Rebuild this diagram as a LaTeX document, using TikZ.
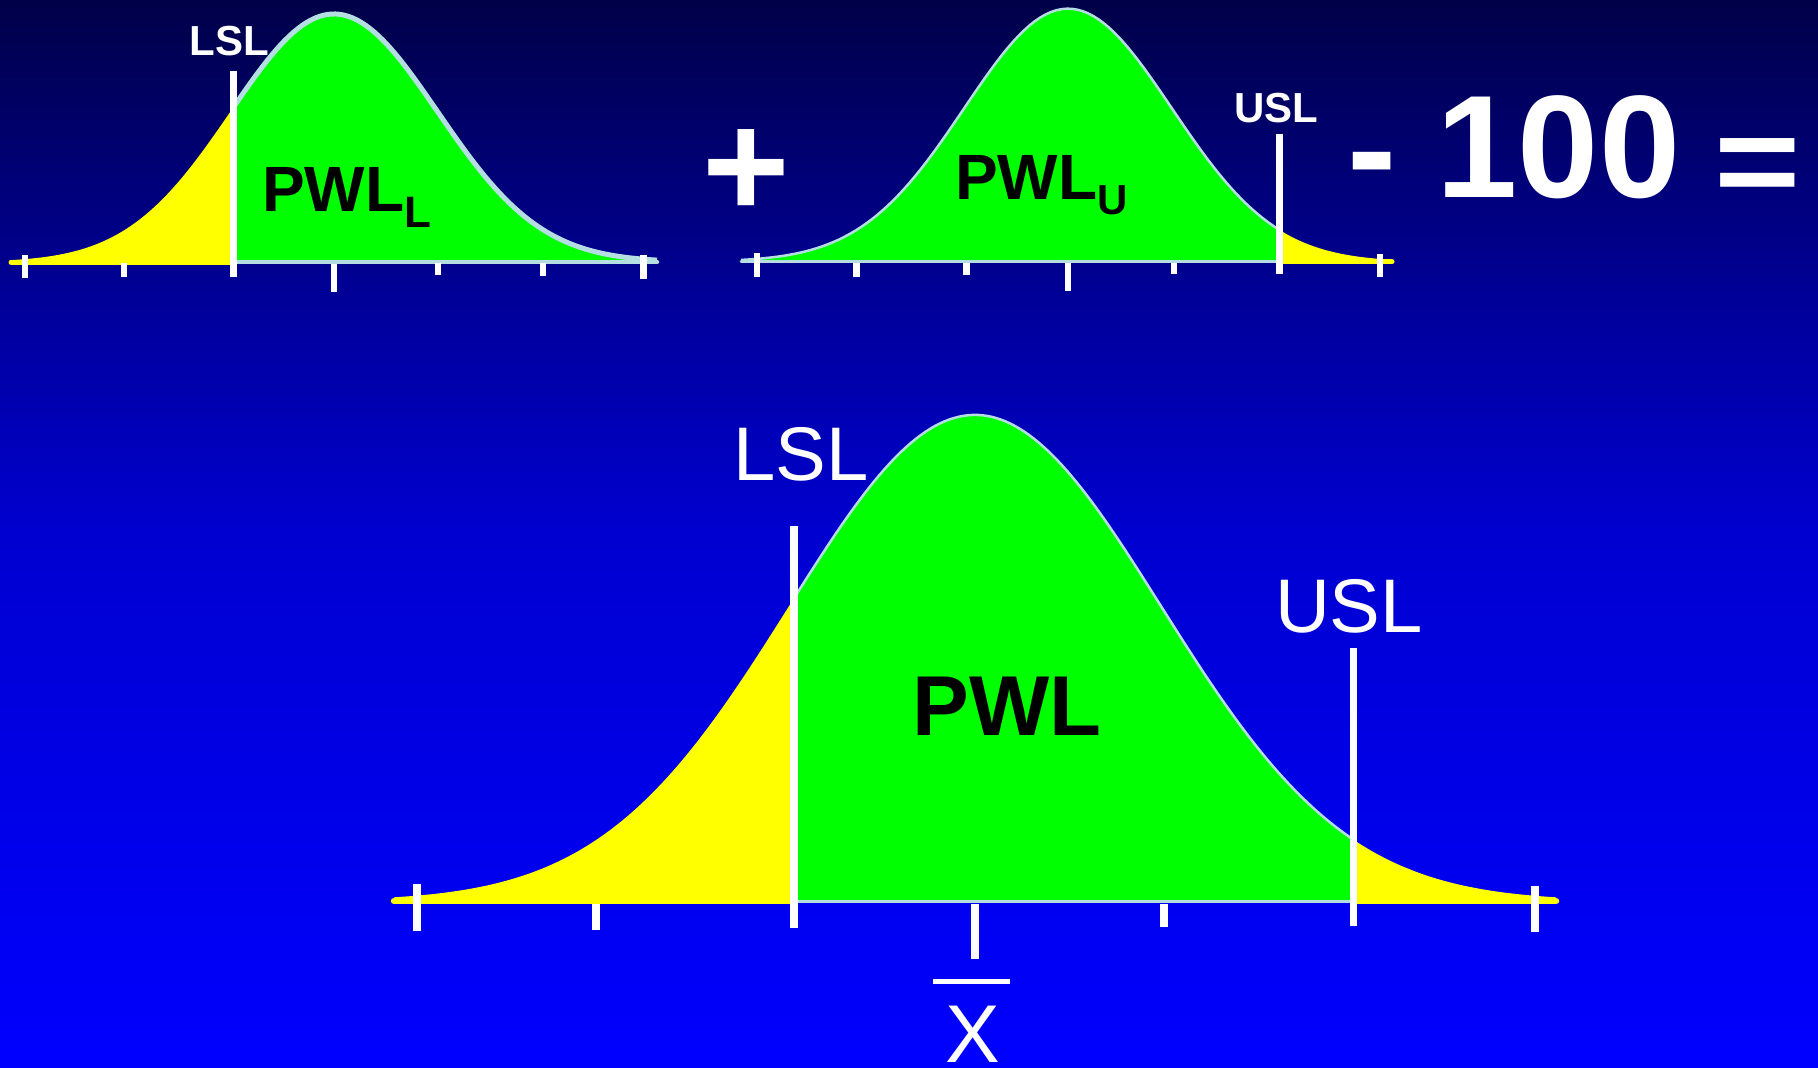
\documentclass[tikz,border=0pt]{standalone}
\usepackage{fontspec}
\setmainfont{Liberation Sans}
\definecolor{bgA}{RGB}{0,0,72}
\definecolor{bgB}{RGB}{0,0,155}
\definecolor{bgC}{RGB}{0,0,208}
\definecolor{bgD}{RGB}{0,0,255}
\definecolor{grn}{RGB}{0,255,0}
\definecolor{ylw}{RGB}{255,255,0}
\definecolor{rimc}{RGB}{180,222,226}
\begin{document}
\begin{tikzpicture}[x=1pt,y=-1pt,
  declare function={nrm(\t,\m,\s)=exp(-0.5*((\t-\m)/\s)^2);},
  tickln/.style={draw=white,line width=6.5pt},
  speclim/.style={draw=white,line width=7pt},
  rim/.style={draw=rimc,line width=#1,line join=round},
  ybase/.style={draw=ylw,line width=#1,line cap=round},
  lbl/.style={text=white,inner sep=0pt,anchor=base},
  blk/.style={text=black,inner sep=0pt,anchor=base west}]
\useasboundingbox (0,0) rectangle (1818,1068);
% background
\fill[top color=bgA,bottom color=bgB] (0,0) rectangle (1818,311);
\fill[top color=bgB,bottom color=bgC] (0,310) rectangle (1818,531);
\fill[top color=bgC,bottom color=bgD] (0,530) rectangle (1818,1068);

% ---------- curve 1 (PWL_L) ----------
\fill[ylw] (11,262) -- plot[domain=11:233,samples=60] (\x,{262-248*nrm(\x,334,103.5)}) -- (233,262) -- cycle;
\fill[grn] plot[domain=233:657,samples=100] (\x,{262-248*nrm(\x,334,103.5)}) -- (657,262) -- (233,262) -- cycle;
\draw[rim=5pt] plot[domain=233:657,samples=100] (\x,{262-248*nrm(\x,334,103.5)});
\draw[rim=4.5pt,line cap=round] (233,262) -- (657,262);
\draw[ybase=5pt] (11,262) -- (233,262);
\draw[tickln] (25,255) -- (25,278);
\draw[tickln] (124,263) -- (124,277);
\draw[tickln] (334,264) -- (334,292);
\draw[tickln] (438,263) -- (438,275);
\draw[tickln] (543,263) -- (543,276);
\draw[tickln] (643.5,255) -- (643.5,279);
\draw[speclim] (233,71) -- (233,277);
\node[lbl,font=\bfseries\fontsize{42pt}{42pt}\selectfont] (lslA) at (229,55) {LSL};
\node[blk,font=\bfseries\fontsize{64pt}{64pt}\selectfont] (pwlL) at (262,211) {PWL\raisebox{-16pt}{\fontsize{44pt}{44pt}\selectfont L}};

% ---------- plus ----------
\node[text=white,inner sep=0pt,font=\bfseries\fontsize{150pt}{150pt}\selectfont] (plus) at (746.5,174) {+};

% ---------- curve 2 (PWL_U) ----------
\fill[grn] plot[domain=741:1279,samples=100] (\x,{261.7-253*nrm(\x,1068,103.8)}) -- (1279,261.7) -- (741,261.7) -- cycle;
\fill[ylw] plot[domain=1279:1392,samples=40] (\x,{261.7-253*nrm(\x,1068,103.8)}) -- (1392,261.7) -- (1279,261.7) -- cycle;
\draw[rim=2.5pt] plot[domain=741:1279,samples=100] (\x,{261.7-253*nrm(\x,1068,103.8)});
\draw[rim=3pt,line cap=round] (741,261.7) -- (1279,261.7);
\draw[ybase=5pt] (1279,261.7) -- (1392,261.7);
\draw[tickln] (757,253) -- (757,277);
\draw[tickln] (856.5,263) -- (856.5,277);
\draw[tickln] (966.5,263) -- (966.5,275);
\draw[tickln] (1068,263) -- (1068,291);
\draw[tickln] (1174,263) -- (1174,274);
\draw[tickln] (1380,254) -- (1380,277);
\draw[speclim] (1279,134) -- (1279,274);
\node[lbl,font=\bfseries\fontsize{42pt}{42pt}\selectfont] (uslA) at (1276.5,122) {USL};
\node[blk,font=\bfseries\fontsize{64pt}{64pt}\selectfont] (pwlU) at (955,199.3) {PWL\raisebox{-15pt}{\fontsize{42pt}{42pt}\selectfont U}};

% ---------- - 100 = ----------
\node[lbl,font=\bfseries\fontsize{148pt}{148pt}\selectfont] (minus) at (1372,199) {-};
\node[lbl,font=\bfseries\fontsize{146pt}{146pt}\selectfont] (hundred) at (1558.5,197) {100};
\node[lbl,font=\bfseries\fontsize{148pt}{148pt}\selectfont] (equals) at (1758,205) {\scalebox{1}[0.87]{=}};

% ---------- big curve (PWL) ----------
\fill[ylw] (394,901) -- plot[domain=394:794,samples=80] (\x,{901-486*nrm(\x,975,186)}) -- (794,901) -- cycle;
\fill[grn] plot[domain=794:1353.5,samples=120] (\x,{901-486*nrm(\x,975,186)}) -- (1353.5,901) -- (794,901) -- cycle;
\fill[ylw] plot[domain=1353.5:1556,samples=50] (\x,{901-486*nrm(\x,975,186)}) -- (1556,901) -- (1353.5,901) -- cycle;
\draw[rim=2.5pt] plot[domain=794:1353.5,samples=120] (\x,{901-486*nrm(\x,975,186)});
\draw[rim=3pt] (794,901.5) -- (1353.5,901.5);
\draw[ybase=6.5pt] (394,901) -- (794,901);
\draw[ybase=6.5pt] (1353.5,901) -- (1556,901);
\draw[tickln,line width=7.5pt] (417,884) -- (417,931);
\draw[tickln,line width=7.5pt] (596,904) -- (596,930);
\draw[tickln,line width=7.5pt] (975,904) -- (975,959);
\draw[tickln,line width=7.5pt] (1164,904) -- (1164,927);
\draw[tickln,line width=7.5pt] (1535,886) -- (1535,932);
\draw[speclim,line width=7.5pt] (794,526) -- (794,928);
\draw[speclim,line width=7.5pt] (1353.5,648) -- (1353.5,926);
\node[lbl,font=\fontsize{76pt}{76pt}\selectfont] (lslB) at (801,480) {LSL};
\node[lbl,font=\fontsize{76pt}{76pt}\selectfont] (uslB) at (1349,632) {USL};
\node[lbl,text=black,font=\bfseries\fontsize{85pt}{85pt}\selectfont] (pwl) at (1007,735) {PWL};
\draw[white,line width=5pt] (933,981) -- (1010,981);
\node[lbl,font=\fontsize{82pt}{82pt}\selectfont] (xbar) at (973,1062) {X};
\end{tikzpicture}
\end{document}
